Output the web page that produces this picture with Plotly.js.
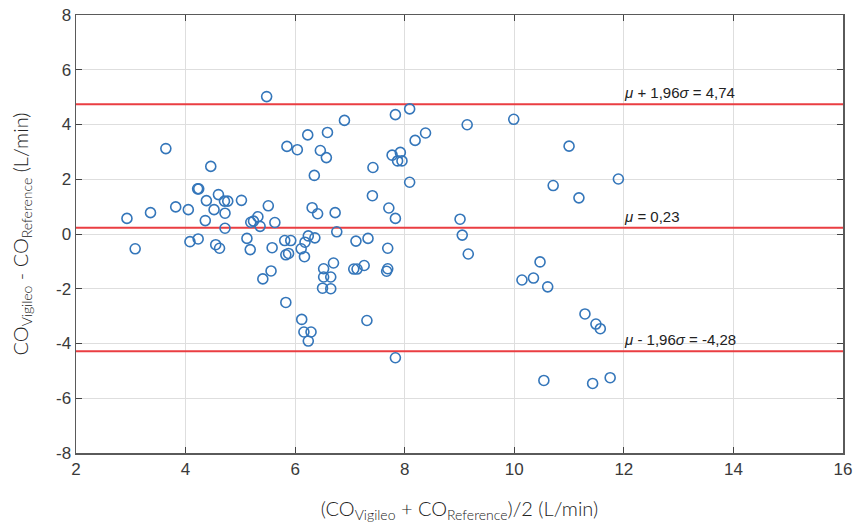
<!DOCTYPE html>
<html>
<head>
<meta charset="utf-8">
<script src="https://cdn.plot.ly/plotly-3.0.1.min.js"></script>
<style>html,body{margin:0;padding:0;background:#fff;}#chart{width:853px;height:524px;}</style>
</head>
<body>
<div id="chart"></div>
<script>
// Mean of the two methods (L/min)
const meanCO = [2.93,3.08,3.36,3.64,3.82,4.05,4.08,4.22,4.24,4.23,4.36,4.38,4.46,4.52,4.60,4.55,4.62,4.71,4.77,4.72,4.72,
  5.02,5.12,5.18,5.19,5.24,5.32,5.36,5.41,5.48,5.51,5.56,5.58,5.63,5.81,5.92,5.83,5.88,5.83,5.85,
  6.04,6.11,6.12,6.16,6.29,6.24,6.17,6.18,6.24,6.36,6.23,6.31,6.35,6.41,6.46,6.57,6.59,6.90,6.52,6.52,6.65,6.50,6.65,6.70,6.73,6.76,
  7.07,7.13,7.26,7.11,7.31,7.33,7.41,7.42,7.67,7.69,7.69,7.71,7.77,7.83,7.83,7.83,7.87,7.92,7.95,
  8.09,8.09,8.19,8.38,9.01,9.05,9.14,9.16,9.99,10.14,10.35,10.47,10.54,10.61,10.71,11.00,11.18,11.29,11.43,11.49,11.57,11.75,11.90];
// Difference Vigileo - Reference (L/min)
const diffCO = [0.57,-0.54,0.78,3.12,0.99,0.89,-0.28,1.65,1.65,-0.18,0.49,1.22,2.47,0.89,1.44,-0.39,-0.52,1.20,1.20,0.76,0.21,
  1.23,-0.16,-0.57,0.43,0.47,0.63,0.28,-1.64,5.02,1.03,-1.35,-0.50,0.42,-0.24,-0.24,-0.76,-0.71,-2.50,3.20,
  3.08,-0.54,-3.12,-3.58,-3.58,-3.91,-0.83,-0.30,-0.07,-0.14,3.62,0.96,2.14,0.74,3.05,2.79,3.71,4.15,-1.27,-1.57,-1.57,-1.98,-2.00,-1.06,0.78,0.08,
  -1.28,-1.28,-1.15,-0.26,-3.16,-0.16,1.40,2.43,-1.36,-1.27,-0.52,0.95,2.88,0.57,4.36,-4.52,2.67,2.98,2.67,
  4.57,1.89,3.42,3.69,0.54,-0.04,3.99,-0.73,4.19,-1.68,-1.61,-1.02,-5.35,-1.93,1.77,3.21,1.32,-2.92,-5.46,-3.29,-3.46,-5.25,2.01];
// Limits of agreement
const limitValues = [4.74, 0.23, -4.28];
const limitLabels = ["<i>μ</i> + 1,96<i>σ</i> = 4,74", "<i>μ</i> = 0,23", "<i>μ</i> - 1,96<i>σ</i> = -4,28"];
const labelX = 12;
const xTicks = [2,4,6,8,10,12,14,16];
const yTicks = [-8,-6,-4,-2,0,2,4,6,8];
const xRange = [2,16];
const yRange = [-8,8];

const traces = limitValues.map(v => ({
  x: xRange, y: [v, v], mode: 'lines', type: 'scatter',
  line: {color: 'rgb(234,62,66)', width: 2}, hoverinfo: 'skip', showlegend: false
}));
traces.push({
  x: meanCO, y: diffCO, mode: 'markers', type: 'scatter', showlegend: false,
  marker: {symbol: 'circle-open', size: 10, color: 'rgb(52,118,186)', line: {width: 1.6, color: 'rgb(52,118,186)'}}
});

const annotations = limitValues.map((v, i) => ({
  x: labelX, y: v, xref: 'x', yref: 'y', text: limitLabels[i], showarrow: false,
  xanchor: 'left', yanchor: 'bottom', yshift: 1, xshift: -2,
  font: {family: 'Liberation Sans', size: 15, color: '#222'}
}));

const axisCommon = {
  showline: true, linecolor: '#5a5a5a', linewidth: 1.5, mirror: 'ticks',
  ticks: 'inside', ticklen: 6, tickcolor: '#444', tickwidth: 1,
  showgrid: true, gridcolor: '#dedede', gridwidth: 1, zeroline: false,
  tickfont: {family: 'Liberation Sans', size: 17, color: '#3a3a3a'}
};

const layout = {
  width: 853, height: 524,
  margin: {l: 76, r: 10, t: 15, b: 71},
  paper_bgcolor: '#fff', plot_bgcolor: '#fff',
  xaxis: Object.assign({}, axisCommon, {
    range: xRange, tickvals: xTicks, ticktext: xTicks.map(String),
    title: {text: '(CO<sub>Vigileo</sub> + CO<sub>Reference</sub>)/2 (L/min)', standoff: 24,
      font: {family: 'Lato', size: 20, color: '#222', weight: 300}}
  }),
  yaxis: Object.assign({}, axisCommon, {
    range: yRange, tickvals: yTicks, ticktext: yTicks.map(String),
    title: {text: 'CO<sub>Vigileo</sub> - CO<sub>Reference</sub> (L/min)', standoff: 22,
      font: {family: 'Lato', size: 20, color: '#222', weight: 300}}
  }),
  annotations: annotations
};

Plotly.newPlot('chart', traces, layout, {staticPlot: true, displayModeBar: false});
</script>
</body>
</html>
